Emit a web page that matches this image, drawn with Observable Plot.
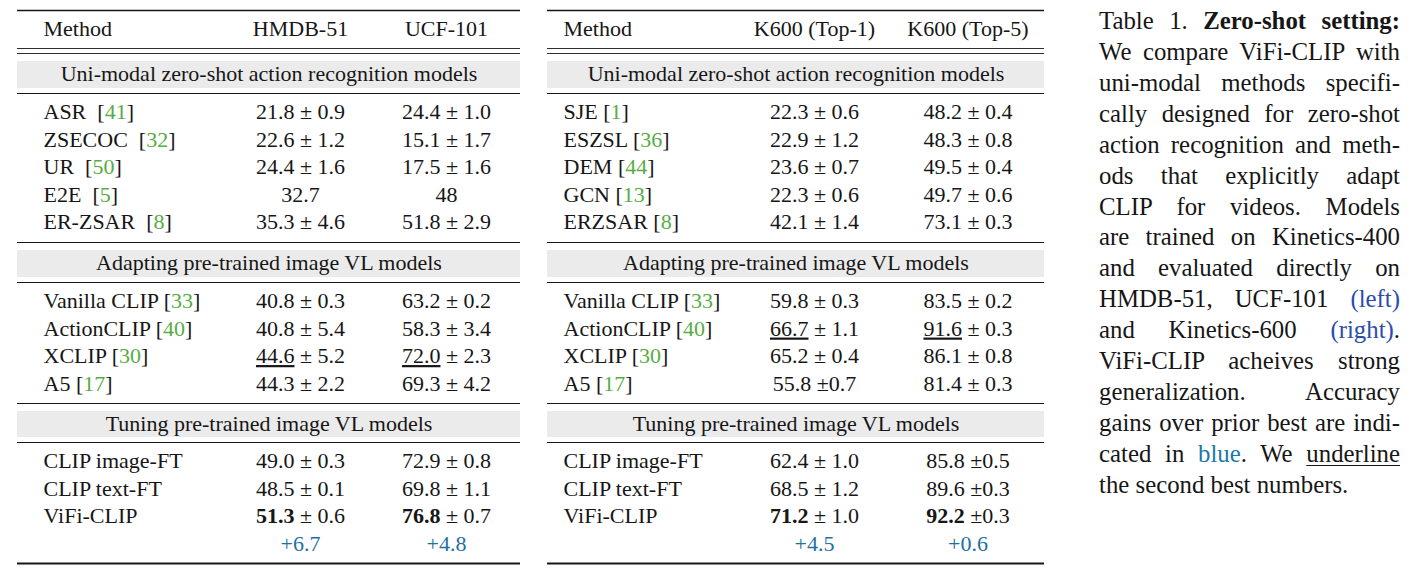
<!DOCTYPE html>
<html>
<head>
<meta charset="utf-8">
<script src="https://cdn.jsdelivr.net/npm/d3@7"></script>
<script src="https://cdn.jsdelivr.net/npm/@observablehq/plot@0.6"></script>
<style>
  html, body { margin: 0; padding: 0; background: #fff; }
  #wrap { position: relative; width: 1415px; height: 572px; overflow: hidden; }
  #chart { position: absolute; left: 0; top: 0; }
  #caption {
    position: absolute; left: 1099px; top: 6px; width: 301px;
    font-family: "Liberation Serif", "Times New Roman", serif;
    font-size: 24.8px; line-height: 30.93px; color: #161616;
  }
  #caption .l { text-align: justify; text-align-last: justify; height: 30.93px; }
  #caption .last { text-align: left; text-align-last: left; }
  #caption .lb { color: #2b4cad; }
  #caption .tb { color: #1a78ab; }
  #caption u { text-decoration-thickness: 1px; text-underline-offset: 3px; }
</style>
</head>
<body>
<div id="wrap">
  <div id="chart"></div>
  <div id="caption">
    <div class="l">Table 1. <b>Zero-shot setting:</b></div>
    <div class="l">We compare ViFi-CLIP with</div>
    <div class="l">uni-modal methods specifi-</div>
    <div class="l">cally designed for zero-shot</div>
    <div class="l">action recognition and meth-</div>
    <div class="l">ods that explicitly adapt</div>
    <div class="l">CLIP for videos. Models</div>
    <div class="l">are trained on Kinetics-400</div>
    <div class="l">and evaluated directly on</div>
    <div class="l">HMDB-51, UCF-101 <span class="lb">(left)</span></div>
    <div class="l">and Kinetics-600 <span class="lb">(right)</span>.</div>
    <div class="l">ViFi-CLIP acheives strong</div>
    <div class="l">generalization. Accuracy</div>
    <div class="l">gains over prior best are indi-</div>
    <div class="l">cated in <span class="tb">blue</span>. We <u>underline</u></div>
    <div class="l last">the second best numbers.</div>
  </div>
</div>
<script>
// ---------------- DATA ----------------
const groupTitles = [
  "Uni-modal zero-shot action recognition models",
  "Adapting pre-trained image VL models",
  "Tuning pre-trained image VL models"
];

const leftHeader = ["Method", "HMDB-51", "UCF-101"];
const rightHeader = ["Method", "K600 (Top-1)", "K600 (Top-5)"];

// "**x**" = best (bold), "__x__" = second best (underlined)
const leftMethods = [
  ["ASR  [41]", "ZSECOC  [32]", "UR  [50]", "E2E  [5]", "ER-ZSAR  [8]"],
  ["Vanilla CLIP [33]", "ActionCLIP [40]", "XCLIP [30]", "A5 [17]"],
  ["CLIP image-FT", "CLIP text-FT", "ViFi-CLIP"]
];
const hmdb51 = [
  ["21.8 ± 0.9", "22.6 ± 1.2", "24.4 ± 1.6", "32.7", "35.3 ± 4.6"],
  ["40.8 ± 0.3", "40.8 ± 5.4", "__44.6__ ± 5.2", "44.3 ± 2.2"],
  ["49.0 ± 0.3", "48.5 ± 0.1", "**51.3** ± 0.6"]
];
const ucf101 = [
  ["24.4 ± 1.0", "15.1 ± 1.7", "17.5 ± 1.6", "48", "51.8 ± 2.9"],
  ["63.2 ± 0.2", "58.3 ± 3.4", "__72.0__ ± 2.3", "69.3 ± 4.2"],
  ["72.9 ± 0.8", "69.8 ± 1.1", "**76.8** ± 0.7"]
];
const leftGains = ["+6.7", "+4.8"];

const rightMethods = [
  ["SJE [1]", "ESZSL [36]", "DEM [44]", "GCN [13]", "ERZSAR [8]"],
  ["Vanilla CLIP [33]", "ActionCLIP [40]", "XCLIP [30]", "A5 [17]"],
  ["CLIP image-FT", "CLIP text-FT", "ViFi-CLIP"]
];
const k600Top1 = [
  ["22.3 ± 0.6", "22.9 ± 1.2", "23.6 ± 0.7", "22.3 ± 0.6", "42.1 ± 1.4"],
  ["59.8 ± 0.3", "__66.7__ ± 1.1", "65.2 ± 0.4", "55.8 ±0.7"],
  ["62.4 ± 1.0", "68.5 ± 1.2", "**71.2** ± 1.0"]
];
const k600Top5 = [
  ["48.2 ± 0.4", "48.3 ± 0.8", "49.5 ± 0.4", "49.7 ± 0.6", "73.1 ± 0.3"],
  ["83.5 ± 0.2", "__91.6__ ± 0.3", "86.1 ± 0.8", "81.4 ± 0.3"],
  ["85.8 ±0.5", "89.6 ±0.3", "**92.2** ±0.3"]
];
const rightGains = ["+4.5", "+0.6"];

// ---------------- LAYOUT ----------------
const layout = {
  width: 1090, height: 572,
  tables: {
    left:  {x1: 17,  x2: 520,  method: 43,  cols: [300, 446]},
    right: {x1: 547, x2: 1044, method: 563, cols: [814, 967.5]}
  },
  headerY: 28,
  topRule: 10, headRules: [48, 53], bottomRule: 563,
  groups: [
    {ruleTop: null, band: [61, 88],   title: 73,    ruleBelow: 93,  firstRow: 111.5},
    {ruleTop: 242,  band: [250, 277], title: 262.5, ruleBelow: 282, firstRow: 300.5},
    {ruleTop: 403,  band: [411, 437], title: 423,   ruleBelow: 442, firstRow: 460.5}
  ],
  rowPitch: 27.5
};
const colors = {ink: "#161616", band: "#ebebeb", cite: "#56ad45", gain: "#1f6fa3"};
const font = "Liberation Serif";

// ---------------- BUILD TABLE ROWS ----------------
const tableDefs = [
  {key: "left",  header: leftHeader,  methods: leftMethods,  cols: [hmdb51, ucf101],     gains: leftGains},
  {key: "right", header: rightHeader, methods: rightMethods, cols: [k600Top1, k600Top5], gains: rightGains}
];

const headers = [], bands = [], titles = [], rules = [], methods = [], values = [], gains = [];
for (const t of tableDefs) {
  const L = layout.tables[t.key];
  headers.push({x: L.method, y: layout.headerY, text: t.header[0], anchor: "start"});
  t.header.slice(1).forEach((h, j) => headers.push({x: L.cols[j], y: layout.headerY, text: h, anchor: "middle"}));
  rules.push({y: layout.topRule, x1: L.x1, x2: L.x2, w: 1.4});
  layout.headRules.forEach(y => rules.push({y, x1: L.x1, x2: L.x2, w: 0.9}));
  rules.push({y: layout.bottomRule, x1: L.x1, x2: L.x2, w: 2});
  layout.groups.forEach((g, gi) => {
    if (g.ruleTop != null) rules.push({y: g.ruleTop, x1: L.x1, x2: L.x2, w: 1});
    rules.push({y: g.ruleBelow, x1: L.x1, x2: L.x2, w: 1});
    bands.push({x1: L.x1, x2: L.x2, y1: g.band[0], y2: g.band[1]});
    titles.push({x: (L.x1 + L.x2) / 2, y: g.title, text: groupTitles[gi]});
    t.methods[gi].forEach((m, ri) => {
      const y = g.firstRow + ri * layout.rowPitch;
      methods.push({x: L.method, y, text: m});
      t.cols.forEach((col, ci) => values.push({x: L.cols[ci], y, text: col[gi][ri]}));
    });
    if (gi === layout.groups.length - 1) {
      const y = g.firstRow + t.methods[gi].length * layout.rowPitch;
      t.gains.forEach((v, ci) => gains.push({x: L.cols[ci], y, text: v}));
    }
  });
}

// ---------------- PLOT ----------------
const svg = Plot.plot({
  width: layout.width,
  height: layout.height,
  margin: 0,
  x: {type: "identity", axis: null},
  y: {type: "identity", axis: null},
  style: {fontFamily: font, fontSize: "22px", color: colors.ink, background: "#fff"},
  marks: [
    Plot.rect(bands, {x1: "x1", x2: "x2", y1: "y1", y2: "y2", fill: colors.band}),
    Plot.ruleY(rules, {y: "y", x1: "x1", x2: "x2", strokeWidth: "w", stroke: colors.ink}),
    Plot.text(headers.filter(d => d.anchor === "start"), {x: "x", y: "y", text: "text", textAnchor: "start", fontSize: 22, fill: colors.ink}),
    Plot.text(headers.filter(d => d.anchor === "middle"), {x: "x", y: "y", text: "text", textAnchor: "middle", fontSize: 22, fill: colors.ink}),
    Plot.text(titles, {x: "x", y: "y", text: "text", textAnchor: "middle", fontSize: 22, fill: colors.ink}),
    Plot.text(methods, {x: "x", y: "y", text: "text", textAnchor: "start", fontSize: 22, fill: colors.ink, ariaDescription: "method-cells"}),
    Plot.text(values, {x: "x", y: "y", text: "text", textAnchor: "middle", fontSize: 22, fill: colors.ink, ariaDescription: "value-cells"}),
    Plot.text(gains, {x: "x", y: "y", text: "text", textAnchor: "middle", fontSize: 22, fill: colors.gain})
  ]
});

// rich text: citations in green, best in bold, second best underlined
const sel = d3.select(svg);
sel.selectAll("text").style("white-space", "pre");
sel.selectAll("text").each(function () {
  const s = this.textContent;
  const t = d3.select(this);
  const m = s.match(/^(.*?)\[(\d+)\]$/);
  if (m) {
    t.text(null);
    t.append("tspan").text(m[1] + "[");
    t.append("tspan").attr("fill", colors.cite).text(m[2]);
    t.append("tspan").text("]");
    return;
  }
  if (/\*\*|__/.test(s)) {
    const parts = s.split(/(\*\*[^*]+\*\*|__[^_]+__)/).filter(d => d);
    t.text(null);
    for (const p of parts) {
      const ts = t.append("tspan");
      if (p.startsWith("**")) ts.attr("font-weight", "bold").text(p.slice(2, -2));
      else if (p.startsWith("__")) ts.style("text-decoration", "underline").text(p.slice(2, -2));
      else ts.text(p);
    }
  }
});

document.getElementById("chart").appendChild(svg);
</script>
</body>
</html>
